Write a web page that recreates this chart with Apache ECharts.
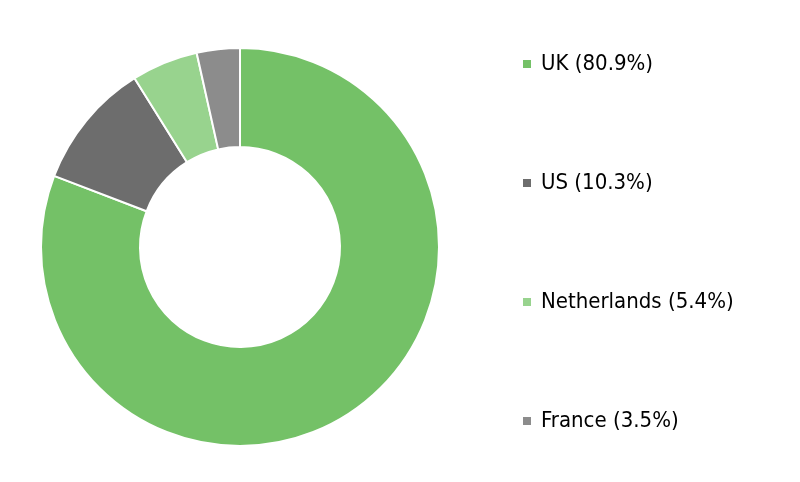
<!DOCTYPE html>
<html>
<head>
<meta charset="utf-8">
<script src="https://cdn.jsdelivr.net/npm/echarts@6/dist/echarts.min.js"></script>
<style>
  html, body { margin: 0; padding: 0; background: #fff; }
  #chart { width: 800px; height: 482px; }
</style>
</head>
<body>
<div id="chart"></div>
<script>
// country split
const countries = ['UK', 'US', 'Netherlands', 'France'];
const shares = [80.9, 10.3, 5.4, 3.5];
const colors = ['#74c167', '#6d6d6d', '#98d38e', '#8c8c8c'];

const myChart = echarts.init(document.getElementById('chart'), null, { renderer: 'canvas' });

const data = countries.map((c, i) => ({
  name: c,
  value: shares[i],
  itemStyle: { color: colors[i] }
}));

const option = {
  animation: false,
  legend: {
    orient: 'vertical',
    left: 516,
    top: 48,
    itemWidth: 10,
    itemHeight: 10,
    itemGap: 97,
    icon: 'rect',
    textStyle: {
      fontFamily: '"DejaVu Sans Condensed", "Liberation Sans", sans-serif',
      fontSize: 22,
      color: '#000',
      padding: [0, 0, 0, 4]
    },
    formatter: function (name) {
      const i = countries.indexOf(name);
      return name + ' (' + shares[i].toFixed(1) + '%)';
    },
    data: countries
  },
  series: [
    {
      type: 'pie',
      center: [240, 247],
      radius: [100, 199],
      startAngle: 90,
      clockwise: true,
      label: { show: false },
      labelLine: { show: false },
      itemStyle: { borderColor: '#fff', borderWidth: 2 },
      emphasis: { disabled: true },
      data: data
    }
  ]
};

myChart.setOption(option);
</script>
</body>
</html>
